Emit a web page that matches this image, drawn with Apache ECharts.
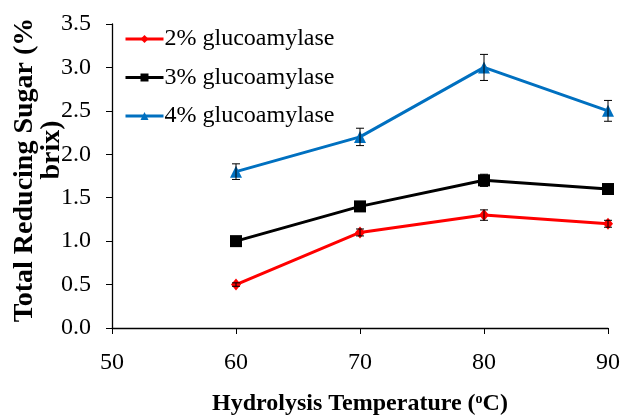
<!DOCTYPE html>
<html><head><meta charset="utf-8">
<script src="https://cdn.jsdelivr.net/npm/echarts@6/dist/echarts.min.js"></script>
<style>html,body{margin:0;padding:0;background:#fff}#c{width:627px;height:417px}</style>
</head><body><div id="c"></div>
<script>
const temps = [60, 70, 80, 90];
const xTicks = [50, 60, 70, 80, 90];
const yTicks = [0, 0.5, 1.0, 1.5, 2.0, 2.5, 3.0, 3.5];
const seriesNames = ['2% glucoamylase', '3% glucoamylase', '4% glucoamylase'];
const s2 = [0.5, 1.1, 1.3, 1.2];
const s3 = [1.0, 1.4, 1.7, 1.6];
const s4 = [1.8, 2.2, 3.0, 2.5];
const e2 = [0.02, 0.04, 0.06, 0.04];
const e3 = [0.03, 0.03, 0.07, 0.04];
const e4 = [0.09, 0.1, 0.15, 0.12];

const colors = ['#FF0000', '#000000', '#0070C0'];
const symbols = ['diamond', 'rect', 'triangle'];
const symSizes = [[10, 12], 12, 12];
const vals = [s2, s3, s4];
const errs = [e2, e3, e4];
const font = '"Liberation Serif", "Times New Roman", serif';

const series = [];
vals.forEach((v, i) => {
  series.push({
    name: seriesNames[i], type: 'line',
    data: temps.map((t, k) => [t, v[k]]),
    symbol: symbols[i], symbolSize: symSizes[i], showAllSymbol: true,
    lineStyle: {color: colors[i], width: 3},
    itemStyle: {color: colors[i]},
    z: 3
  });
  series.push({
    type: 'custom', silent: true, z: 4,
    data: temps.map((t, k) => [t, v[k] - errs[i][k], v[k] + errs[i][k]]),
    renderItem: function (params, api) {
      const lo = api.coord([api.value(0), api.value(1)]);
      const hi = api.coord([api.value(0), api.value(2)]);
      const w = 4;
      const st = {stroke: '#000', lineWidth: 1};
      return {type: 'group', children: [
        {type: 'line', shape: {x1: lo[0], y1: lo[1], x2: hi[0], y2: hi[1]}, style: st},
        {type: 'line', shape: {x1: lo[0] - w, y1: lo[1], x2: lo[0] + w, y2: lo[1]}, style: st},
        {type: 'line', shape: {x1: hi[0] - w, y1: hi[1], x2: hi[0] + w, y2: hi[1]}, style: st}
      ]};
    }
  });
});

const chart = echarts.init(document.getElementById('c'));
chart.setOption({
  animation: false,
  backgroundColor: '#fff',
  grid: {left: 112, right: 19, top: 24, bottom: 89, containLabel: false},
  legend: {
    data: seriesNames,
    orient: 'vertical', left: 124, top: 27, itemGap: 14.5, padding: 0,
    itemWidth: 38, itemHeight: 10,
    lineStyle: {width: 3},
    textStyle: {fontFamily: font, fontSize: 24, color: '#000', padding: [0, 0, 0, -4]}
  },
  xAxis: {
    type: 'value', min: xTicks[0], max: xTicks[xTicks.length - 1], interval: 10,
    axisLine: {lineStyle: {color: '#000', width: 1.3}},
    axisTick: {show: true, length: 6, lineStyle: {color: '#000'}},
    splitLine: {show: false},
    axisLabel: {fontFamily: font, fontSize: 24, color: '#000', margin: 23}
  },
  yAxis: {
    type: 'value', min: yTicks[0], max: yTicks[yTicks.length - 1], interval: 0.5,
    axisLine: {show: true, lineStyle: {color: '#000', width: 1.3}},
    axisTick: {show: true, length: 6, lineStyle: {color: '#000'}},
    splitLine: {show: false},
    axisLabel: {fontFamily: font, fontSize: 24, color: '#000', margin: 21,
      formatter: v => v.toFixed(1)}
  },
  graphic: [
    {type: 'text', x: 25, y: 170, rotation: Math.PI / 2,
      style: {text: 'Total Reducing Sugar (%', font: 'bold 28px ' + font, fill: '#000',
        textAlign: 'center', textVerticalAlign: 'middle'}},
    {type: 'text', x: 52, y: 150, rotation: Math.PI / 2,
      style: {text: 'brix)', font: 'bold 28px ' + font, fill: '#000',
        textAlign: 'center', textVerticalAlign: 'middle'}},
    {type: 'text', x: 360, y: 404,
      style: {text: '{a|Hydrolysis Temperature (}{s|o}{a|C)}',
        rich: {a: {fontFamily: font, fontWeight: 'bold', fontSize: 24, color: '#000'},
               s: {fontFamily: font, fontWeight: 'bold', fontSize: 14, color: '#000', verticalAlign: 'top', padding: [0, 0, 10, 0]}},
        textAlign: 'center', textVerticalAlign: 'middle'}}
  ],
  series: series
});
</script></body></html>
